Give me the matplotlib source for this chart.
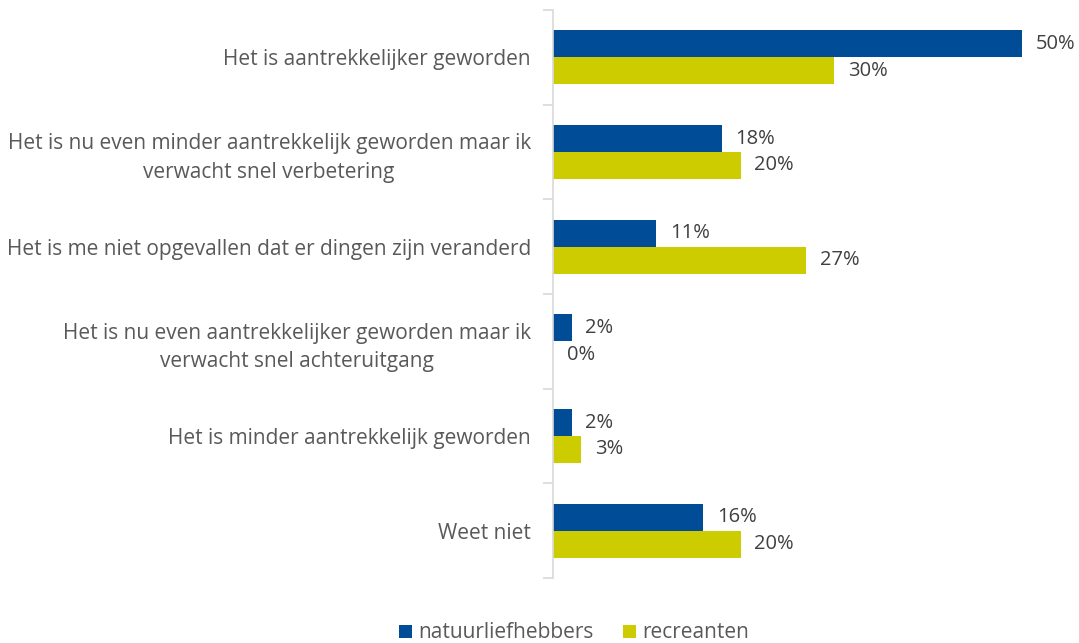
import matplotlib.pyplot as plt
import numpy as np

categories = [
    'Het is aantrekkelijker geworden',
    'Het is nu even minder aantrekkelijk geworden maar ik\nverwacht snel verbetering',
    'Het is me niet opgevallen dat er dingen zijn veranderd',
    'Het is nu even aantrekkelijker geworden maar ik\nverwacht snel achteruitgang',
    'Het is minder aantrekkelijk geworden',
    'Weet niet',
]
natuurliefhebbers = [50, 18, 11, 2, 2, 16]
recreanten = [30, 20, 27, 0, 3, 20]

blue = '#004C97'
yellow = '#CCCC00'
grey = '#595959'
dark = '#404040'

plt.rcParams['font.family'] = ['Open Sans', 'DejaVu Sans']

fig = plt.figure(figsize=(10.79, 6.43), dpi=100)
ax = fig.add_axes([553 / 1079, 1 - 578 / 643, (1069 - 553) / 1079, 568 / 643])

y = np.arange(len(categories))
h = 0.285
b1 = ax.barh(y - h / 2, natuurliefhebbers, height=h, color=blue, label='natuurliefhebbers')
b2 = ax.barh(y + h / 2, recreanten, height=h, color=yellow, label='recreanten')

for bars, vals in ((b1, natuurliefhebbers), (b2, recreanten)):
    for bar, v in zip(bars, vals):
        ax.text(v + 1.45, bar.get_y() + bar.get_height() / 2, f'{v}%',
                va='center', ha='left', fontsize=14.5, color=dark)

ax.set_xlim(0, 55)
ax.set_ylim(len(categories) - 0.5, -0.5)
ax.set_xticks([])
ax.set_yticks(y)
ax.set_yticklabels(categories, fontsize=15, color=grey, multialignment='center',
                   linespacing=1.45)
ax.set_yticks(np.arange(-0.5, len(categories), 1), minor=True)
ax.tick_params(axis='y', which='major', length=0, pad=16)
ax.tick_params(axis='y', which='minor', length=7, color='#D9D9D9', width=1.2)
for s in ('top', 'right', 'bottom'):
    ax.spines[s].set_visible(False)
ax.spines['left'].set_color('#D9D9D9')
ax.spines['left'].set_linewidth(1.2)

fig.legend(handles=[b1, b2], loc='center', bbox_to_anchor=(574 / 1079, 1 - 633 / 643),
           ncol=2, frameon=False, fontsize=15, labelcolor=grey,
           handlelength=0.6, handleheight=0.6, handletextpad=0.3, columnspacing=1.45)

fig.savefig('out.png', dpi=100)
